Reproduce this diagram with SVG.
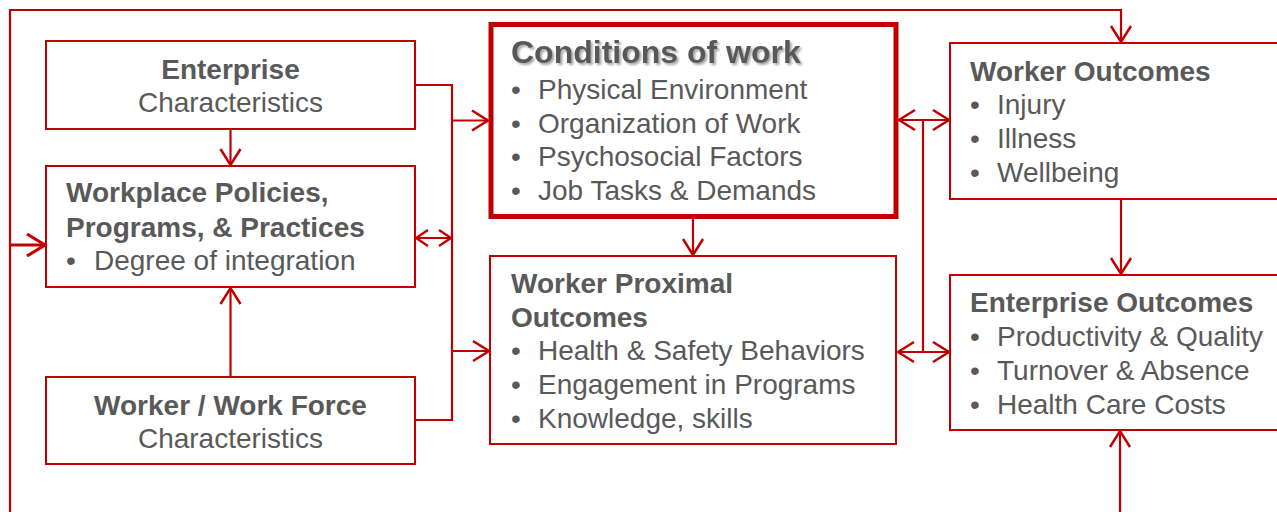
<svg xmlns="http://www.w3.org/2000/svg" width="1277" height="512" viewBox="0 0 1277 512">
<style>
.box{fill:#fff;stroke:#C00000;stroke-width:2}
.thick{fill:#fff;stroke:#C00000;stroke-width:5}
.t{font-family:"Liberation Sans",Arial,sans-serif;font-size:28px;fill:#595959}
.b{font-weight:bold}
.c{text-anchor:middle}
.ln{fill:none;stroke:#C00000;stroke-width:2.2}
</style>
<defs>
<marker id="aL" markerUnits="userSpaceOnUse" markerWidth="20" markerHeight="24" viewBox="0 0 20 24" refX="17" refY="12" orient="auto-start-reverse">
<path d="M1,2 L17,12 L1,22" fill="none" stroke="#C00000" stroke-width="2.5"/>
</marker>
<marker id="aS" markerUnits="userSpaceOnUse" markerWidth="16" markerHeight="20" viewBox="0 0 16 20" refX="13" refY="10" orient="auto-start-reverse">
<path d="M1,2 L13,10 L1,18" fill="none" stroke="#C00000" stroke-width="2.3"/>
</marker>
<marker id="aB" markerUnits="userSpaceOnUse" markerWidth="22" markerHeight="26" viewBox="0 0 22 26" refX="19" refY="13" orient="auto">
<path d="M1,2 L19,13 L1,24" fill="none" stroke="#C00000" stroke-width="3.2"/>
</marker>
<filter id="sh" x="-5%" y="-20%" width="110%" height="150%">
<feDropShadow dx="2" dy="2" stdDeviation="1.2" flood-color="#000" flood-opacity="0.35"/>
</filter>
</defs>
<g id="connectors">
<path class="ln" d="M10,512 V10 H1121 V42" marker-end="url(#aL)"/>
<path class="ln" d="M10,245 H45" style="stroke-width:3.2" marker-end="url(#aB)"/>
<path class="ln" d="M230.5,129 V165" marker-end="url(#aL)"/>
<path class="ln" d="M230.5,377 V288" marker-end="url(#aL)"/>
<path class="ln" d="M415,85 H452 V420 H415"/>
<path class="ln" d="M452,120.5 H488" marker-end="url(#aL)"/>
<path class="ln" d="M452,351 H489" marker-end="url(#aL)"/>
<path class="ln" d="M416,238 H451" marker-start="url(#aS)" marker-end="url(#aS)"/>
<path class="ln" d="M693,218 V255" marker-end="url(#aL)"/>
<path class="ln" d="M899,120 H949" marker-start="url(#aL)" marker-end="url(#aL)"/>
<path class="ln" d="M923,120 V352"/>
<path class="ln" d="M898,352 H949" marker-start="url(#aL)" marker-end="url(#aL)"/>
<path class="ln" d="M1121,199 V274" marker-end="url(#aL)"/>
<path class="ln" d="M1120,512 V431" marker-end="url(#aL)"/>
</g>
<g id="enterprise">
<rect class="box" x="46" y="41" width="369" height="88"/>
<text class="t b c" x="230.5" y="79">Enterprise</text>
<text class="t c" x="230.5" y="112">Characteristics</text>
</g>
<g id="workplace">
<rect class="box" x="46" y="166" width="369" height="121"/>
<text class="t b" x="66" y="202">Workplace Policies,</text>
<text class="t b" x="66" y="237">Programs, &amp; Practices</text>
<text class="t" x="66" y="270">•</text>
<text class="t" x="94" y="270">Degree of integration</text>
</g>
<g id="workforce">
<rect class="box" x="46" y="377" width="369" height="87"/>
<text class="t b c" x="230.5" y="415">Worker / Work Force</text>
<text class="t c" x="230.5" y="448">Characteristics</text>
</g>
<g id="conditions">
<rect class="thick" x="491" y="24.5" width="405" height="192"/>
<text class="t b" x="511" y="63" style="font-size:32px" filter="url(#sh)">Conditions of work</text>
<g class="t">
<text x="511" y="99">•</text><text x="538" y="99">Physical Environment</text>
<text x="511" y="133">•</text><text x="538" y="133">Organization of Work</text>
<text x="511" y="166">•</text><text x="538" y="166">Psychosocial Factors</text>
<text x="511" y="200">•</text><text x="538" y="200">Job Tasks &amp; Demands</text>
</g>
</g>
<g id="proximal">
<rect class="box" x="490" y="256" width="406" height="188"/>
<text class="t b" x="511" y="293">Worker Proximal</text>
<text class="t b" x="511" y="327">Outcomes</text>
<g class="t">
<text x="511" y="360">•</text><text x="538" y="360">Health &amp; Safety Behaviors</text>
<text x="511" y="394">•</text><text x="538" y="394">Engagement in Programs</text>
<text x="511" y="428">•</text><text x="538" y="428">Knowledge, skills</text>
</g>
</g>
<g id="worker-outcomes">
<rect class="box" x="950" y="43" width="340" height="156"/>
<text class="t b" x="970" y="81">Worker Outcomes</text>
<g class="t">
<text x="970" y="114">•</text><text x="997" y="114">Injury</text>
<text x="970" y="148">•</text><text x="997" y="148">Illness</text>
<text x="970" y="182">•</text><text x="997" y="182">Wellbeing</text>
</g>
</g>
<g id="enterprise-outcomes">
<rect class="box" x="950" y="275" width="340" height="155"/>
<text class="t b" x="970" y="312">Enterprise Outcomes</text>
<g class="t">
<text x="970" y="346">•</text><text x="997" y="346">Productivity &amp; Quality</text>
<text x="970" y="380">•</text><text x="997" y="380">Turnover &amp; Absence</text>
<text x="970" y="414">•</text><text x="997" y="414">Health Care Costs</text>
</g>
</g>
</svg>
